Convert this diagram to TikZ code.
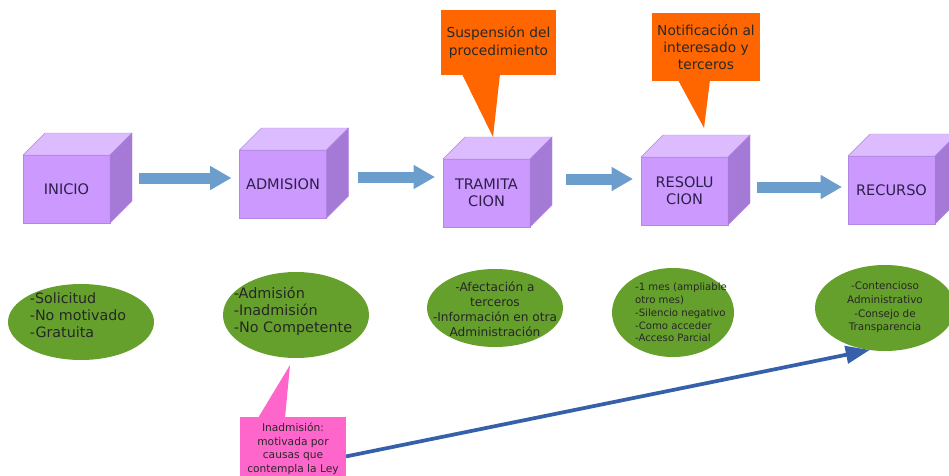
\documentclass[tikz,border=0pt]{standalone}
\usepackage{fontspec}
\setmainfont{DejaVu Sans}
\usetikzlibrary{positioning,arrows.meta,shapes.geometric,calc}
\definecolor{lilac}{RGB}{204,153,255}
\definecolor{lilactop}{RGB}{221,187,255}
\definecolor{lilacside}{RGB}{165,122,214}
\definecolor{lilacedge}{RGB}{178,136,228}
\definecolor{cubeink}{RGB}{45,32,72}
\definecolor{flowblue}{RGB}{108,158,205}
\definecolor{linkblue}{RGB}{55,96,170}
\definecolor{leafgreen}{RGB}{102,160,44}
\definecolor{notegold}{RGB}{255,102,0}
\definecolor{notepink}{RGB}{255,102,204}
\definecolor{inkgrey}{RGB}{40,40,40}

\tikzset{
  cubefront/.style={rectangle,fill=lilac,draw=lilacedge,line width=0.3pt,
    minimum width=65.25pt,minimum height=51pt,inner sep=0pt,outer sep=0pt,
    align=center,text=cubeink,font=\fontsize{10.9}{12.75}\selectfont},
  cubetop/.style={fill=lilactop,draw=lilacedge,line width=0.3pt},
  cubeside/.style={fill=lilacside,draw=lilacedge,line width=0.3pt},
  flow/.style={draw=flowblue,line width=8.25pt,-{Triangle[length=16pt,width=17pt]}},
  link/.style={draw=linkblue,line width=2.8pt,-{Triangle[length=18pt,width=13pt]}},
  bubble/.style={ellipse,fill=leafgreen,inner sep=0pt,outer sep=0pt},
  bubbletext/.style={inner sep=0pt,text=black!85},
  callout/.style={rectangle,fill=notegold,inner sep=0pt,outer sep=0pt,align=center,
    text=inkgrey,font=\fontsize{10.3}{13}\selectfont},
  pinknote/.style={rectangle,fill=notepink,inner sep=0pt,outer sep=0pt,align=center,
    text=inkgrey,font=\fontsize{8}{10.1}\selectfont,
    minimum width=79.5pt,minimum height=48pt}
}

\begin{document}
\begin{tikzpicture}[x=0.75pt,y=-0.75pt]
\useasboundingbox (0,0) rectangle (949,475);
\clip (0,0) rectangle (949,475);

% the five steps
\node[cubefront] (ini) at (66.5,189) {INICIO};
\node[cubefront] (adm) at (283,184) {ADMISION};
\node[cubefront] (tra) at (486.5,193) {TRAMITA\\CION};
\node[cubefront] (res) at (684.5,191) {RESOLU\\CION};
\node[cubefront] (rec) at (891.5,190) {RECURSO};
\foreach \c in {ini,adm,tra,res,rec} {
  \filldraw[cubetop] (\c.north west) -- ++(22,-22) -- ++(87,0) -- (\c.north east) -- cycle;
  \filldraw[cubeside] (\c.north east) -- ++(22,-22) -- ++(0,68) -- (\c.south east) -- cycle;
}

% flow between steps
\draw[flow] ($(ini.east)+(29,-11)$) -- ($(adm.west)+(-8,-6)$);
\draw[flow] ($(adm.east)+(31,-7)$) -- ($(tra.west)+(-8,-16)$);
\draw[flow] ($(tra.east)+(36,-14)$) -- ($(res.west)+(-8,-12)$);
\draw[flow] ($(res.east)+(29,-4)$) -- ($(rec.west)+(-6,-3)$);

% details under each step
\node[bubble,minimum width=109.5pt,minimum height=57pt] (e1) at (81,322) {};
\node[bubble,minimum width=109.5pt,minimum height=64.5pt] (e2) at (296,315) {};
\node[bubble,minimum width=102pt,minimum height=58.5pt] (e3) at (495,308) {};
\node[bubble,minimum width=91.5pt,minimum height=66.75pt] (e4) at (673,312.5) {};
\node[bubble,minimum width=105pt,minimum height=64.5pt] (e5) at (885,308) {};

\node[bubbletext,align=left,font=\fontsize{10.7}{12.75}\selectfont] (e1t) at ($(e1)+(-3,-7)$)
  {-Solicitud\\-No motivado\\-Gratuita};
\node[bubbletext,align=left,font=\fontsize{10.8}{12.75}\selectfont] (e2t) at ($(e2)+(-3,-3.5)$)
  {-Admisión\\-Inadmisión\\-No Competente};
\node[bubbletext,align=center,font=\fontsize{9.1}{11.25}\selectfont] (e3t) at ($(e3)+(0,1.5)$)
  {-Afectación a\\terceros\\-Información en otra\\Administración};
\node[bubbletext,align=left,font=\fontsize{7.6}{9.6}\selectfont] (e4t) at ($(e4)+(8,0)$)
  {-1 mes (ampliable\\otro mes)\\-Silencio negativo\\-Como acceder\\-Acceso Parcial};
\node[bubbletext,align=center,font=\fontsize{7.8}{10.3}\selectfont] (e5t) at ($(e5)+(0,-0.5)$)
  {-Contencioso\\Administrativo\\-Consejo de\\Transparencia};

% callouts
\node[callout,minimum width=86.25pt,minimum height=48.75pt] (susp) at (498.5,42.5)
  {Suspensión del\\procedimiento};
\coordinate (susptip) at ($(tra.north)+(6.5,-22)$);
\fill[notegold] ($(susp.south)+(-36.5,-1)$) -- (susptip) -- ($(susp.south)+(1.5,-1)$) -- cycle;

\node[callout,minimum width=81pt,minimum height=51pt] (noti) at (706,47)
  {Notificación al\\interesado y\\terceros};
\coordinate (notitip) at ($(res.north)+(19.5,-29)$);
\fill[notegold] ($(noti.south)+(-28,-1)$) -- (notitip) -- ($(noti.south)+(4,-1)$) -- cycle;

\node[pinknote] (inad) at (293,449)
  {Inadmisión:\\motivada por\\causas que\\contempla la Ley};
\coordinate (inadtip) at ($(e2.south)+(-6,7)$);
\fill[notepink] ($(inad.north)+(-35,1)$) -- (inadtip) -- ($(inad.north)+(-8,1)$) -- cycle;

% appeal link
\draw[link] (inad.-8) -- (e5.250);
\end{tikzpicture}
\end{document}
